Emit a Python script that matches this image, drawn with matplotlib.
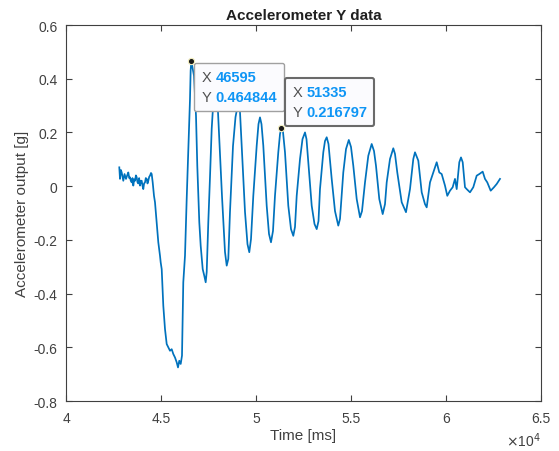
import matplotlib
matplotlib.use("Agg")
import matplotlib.pyplot as plt
from matplotlib.ticker import FuncFormatter
from matplotlib.offsetbox import TextArea, HPacker, VPacker, AnnotationBbox

plt.rcParams['font.family'] = ['Liberation Sans', 'DejaVu Sans']
plt.rcParams['axes.unicode_minus'] = False

# ---- data (time in ms, acceleration in g) ----
t_ms = [
    42805, 42842, 42890, 42931, 42975, 43016, 43080, 43158, 43220, 43279, 43330,
    43368, 43410, 43458, 43500, 43542, 43590, 43631, 43680, 43721, 43760, 43805,
    43850, 43895, 43940, 43984, 44030, 44068, 44110, 44158, 44200, 44247, 44290,
    44331, 44380, 44421, 44473, 44510, 44563, 44631, 44684, 44774, 44858, 44947,
    44984, 45037, 45121, 45210, 45300, 45384, 45474, 45563, 45647, 45737, 45826,
    45895, 45963, 46037, 46105, 46173, 46263, 46352, 46437, 46526, 46560, 46595,
    46737, 46842, 46910, 47016, 47089, 47195, 47279, 47352, 47405, 47489, 47579,
    47668, 47763, 47842, 47921, 48000, 48210, 48368, 48458, 48542, 48631, 48789,
    48921, 49052, 49158, 49247, 49421, 49552, 49647, 49737, 49858, 50037, 50131,
    50210, 50289, 50384, 50563, 50684, 50789, 50894, 50999, 51173, 51263, 51335,
    51421, 51526, 51700, 51842, 51963, 52052, 52142, 52316, 52447, 52579, 52658,
    52753, 52932, 53079, 53195, 53289, 53368, 53542, 53631, 53721, 53815, 53984,
    54158, 54331, 54421, 54594, 54737, 54884, 55000, 55121, 55300, 55474, 55579,
    55737, 55910, 56089, 56210, 56315, 56489, 56668, 56789, 56879, 57052, 57226,
    57315, 57436, 57668, 57894, 58105, 58279, 58368, 58542, 58721, 58894, 58984,
    59158, 59331, 59510, 59647, 59773, 59947, 60068, 60210, 60352, 60473, 60563,
    60700, 60789, 60879, 60999, 61089, 61263, 61436, 61615, 61752, 61931, 62052,
    62173, 62352, 62526, 62668, 62842,
]
acc_g = [
    0.070, 0.027, 0.060, 0.051, 0.035, 0.020, 0.045, 0.027, 0.040, 0.051, 0.030,
    0.033, 0.020, 0.014, 0.030, 0.002, 0.025, 0.020, 0.040, 0.033, 0.015, 0.010,
    0.030, 0.002, 0.020, 0.020, 0.000, -0.011, 0.010, 0.014, 0.030, 0.027, 0.010,
    0.020, 0.035, 0.039, 0.049, 0.045, 0.014, -0.036, -0.060, -0.135, -0.209, -0.259,
    -0.284, -0.309, -0.445, -0.532, -0.588, -0.600, -0.613, -0.607, -0.625, -0.638, -0.656,
    -0.675, -0.650, -0.662, -0.631, -0.358, -0.259, -0.048, 0.138, 0.324, 0.430, 0.464844,
    0.411, 0.262, 0.076, -0.135, -0.222, -0.309, -0.334, -0.358, -0.320, -0.135, 0.034,
    0.213, 0.324, 0.369, 0.343, 0.276, -0.037, -0.245, -0.296, -0.271, -0.096, 0.149,
    0.257, 0.306, 0.276, 0.151, -0.096, -0.216, -0.246, -0.197, -0.036, 0.151, 0.231,
    0.256, 0.231, 0.151, -0.073, -0.178, -0.209, -0.167, -0.036, 0.126, 0.194, 0.216797,
    0.202, 0.126, -0.073, -0.160, -0.185, -0.152, -0.036, 0.101, 0.175, 0.200, 0.175,
    0.089, -0.073, -0.141, -0.160, -0.130, -0.011, 0.126, 0.168, 0.182, 0.157, 0.027,
    -0.093, -0.147, -0.122, 0.051, 0.138, 0.172, 0.146, 0.076, -0.048, -0.116, -0.093,
    0.014, 0.113, 0.157, 0.131, 0.076, -0.048, -0.104, -0.067, 0.014, 0.101, 0.141,
    0.120, 0.051, -0.060, -0.097, -0.011, 0.101, 0.126, 0.095, -0.023, -0.067, -0.079,
    0.014, 0.051, 0.089, 0.051, 0.045, 0.002, -0.036, -0.017, -0.004, 0.027, -0.011,
    0.089, 0.107, 0.089, -0.004, -0.011, -0.023, -0.004, 0.039, 0.045, 0.054, 0.027,
    0.014, -0.017, -0.004, 0.008, 0.027,
]

tip_x = [46595, 51335]
tip_y = [0.464844, 0.216797]

x_ticks = [40000, 45000, 50000, 55000, 60000, 65000]
y_ticks = [-0.8, -0.6, -0.4, -0.2, 0.0, 0.2, 0.4, 0.6]

# ---- figure ----
W, H = 559, 452
fig = plt.figure(figsize=(W / 100, H / 100), dpi=100)
ax = fig.add_axes([66 / W, 1 - 402 / H, (541 - 66) / W, (402 - 26) / H])

line_color = '#0072BD'
ax.plot(t_ms, acc_g, color=line_color, lw=1.25, zorder=2, solid_joinstyle='round')

ax.set_xlim(40000, 65000)
ax.set_ylim(-0.8, 0.6)
ax.set_xticks(x_ticks)
ax.set_yticks(y_ticks)
ax.xaxis.set_major_formatter(FuncFormatter(lambda v, p: f"{v / 1e4:g}"))
ax.yaxis.set_major_formatter(FuncFormatter(lambda v, p: f"{v:g}" if abs(v) > 1e-9 else "0"))

for s in ax.spines.values():
    s.set_color('#404040')
    s.set_linewidth(0.8)
ax.tick_params(direction='in', length=4, width=0.8, color='#404040',
               top=True, right=True, labelsize=10, labelcolor='#404040')
ax.tick_params(axis='x', pad=7)
ax.tick_params(axis='y', pad=6)

ax.set_xlabel('Time [ms]', fontsize=11, color='#404040')
ax.set_ylabel('Accelerometer output [g]', fontsize=11, color='#404040')
ax.xaxis.set_label_coords(0.5, -0.072)
ax.yaxis.set_label_coords(-0.078, 0.5)
ax.set_title('Accelerometer Y data', fontsize=11, fontweight='bold', color='#202020', pad=4)

ax.text(1.0, -0.078, r'$\times$10$^{4}$', transform=ax.transAxes, ha='right', va='top',
        fontsize=10, color='#404040')

# ---- data tips ----
ax.plot(tip_x, tip_y, 'o', ms=4.5, mfc='#1a1a1a', mec='#f5f0c0', mew=0.8, zorder=6)

label_col = '#505050'
val_col = '#0E95F5'
offsets = [((2.2, -1.4), (0, 1)), ((2.9, 1.4), (0, 0))]
edges = [('#A0A0A0', 1.0), ('#6a6a6a', 1.5)]
for (xv, yv), (off, align), (ec, elw) in zip(zip(tip_x, tip_y), offsets, edges):
    rows = []
    for lab, val in (('X', f"{xv:g}"), ('Y', f"{yv:g}")):
        a = TextArea(lab + ' ', textprops=dict(color=label_col, fontsize=10.5))
        b = TextArea(val, textprops=dict(color=val_col, fontsize=10.5, fontweight='bold'))
        rows.append(HPacker(children=[a, b], align='baseline', pad=0, sep=0))
    box = VPacker(children=rows, align='left', pad=5.2, sep=4)
    ab = AnnotationBbox(box, (xv, yv), xybox=off, xycoords='data', boxcoords='offset points',
                        box_alignment=align, frameon=True, pad=0,
                        bboxprops=dict(facecolor='#FBFBFE', edgecolor=ec, linewidth=elw,
                                       boxstyle='round,pad=0,rounding_size=0.15'))
    ab.set_zorder(5)
    ax.add_artist(ab)

fig.savefig('out.png', dpi=100)
